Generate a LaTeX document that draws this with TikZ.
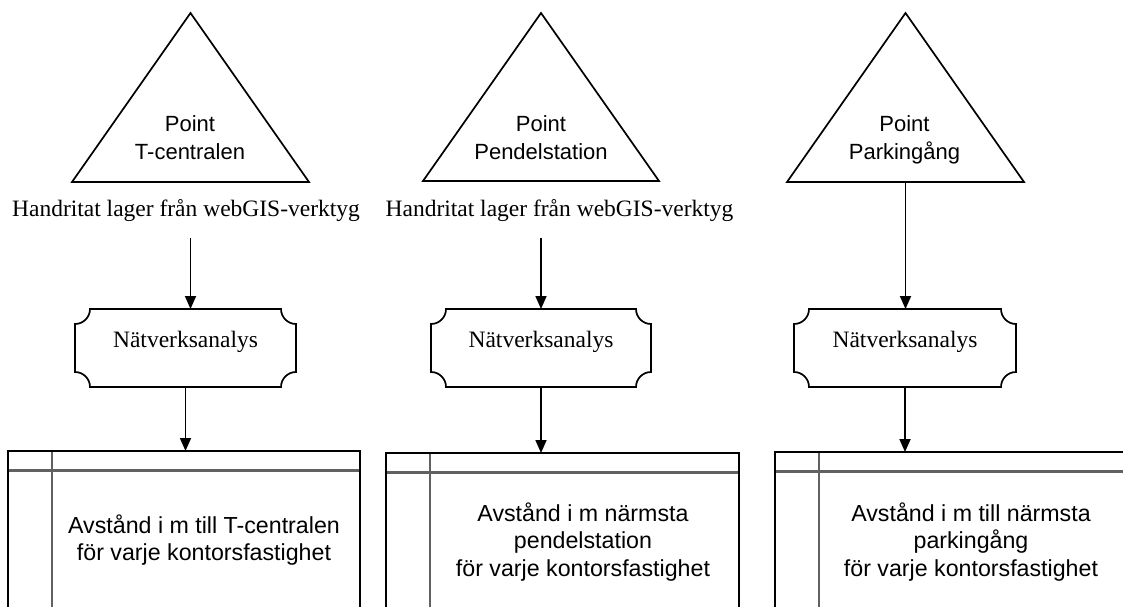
\documentclass[tikz,border=0pt]{standalone}
\usepackage{fontspec}
\setmainfont{Liberation Serif}
\setsansfont{Liberation Sans}
\usetikzlibrary{arrows.meta}

% concave-cornered plaque drawn around a named node
\newcommand\plaqueoutline[1]{%
  \draw[outline] ([xshift=15pt]#1.north west) -- ([xshift=-15pt]#1.north east)
    arc[start angle=180, end angle=270, radius=15pt] -- ([yshift=15pt]#1.south east)
    arc[start angle=90, end angle=180, radius=15pt] -- ([xshift=15pt]#1.south west)
    arc[start angle=0, end angle=90, radius=15pt] -- ([yshift=-15pt]#1.north west)
    arc[start angle=270, end angle=360, radius=15pt] -- cycle;}

% triangle inscribed in a named box
\newcommand\triangleoutline[1]{%
  \draw[outline, line join=miter] (#1.north) -- (#1.south east) -- (#1.south west) -- cycle;}

% header row and side column of a storage table
\newcommand\storedividers[1]{%
  \draw[divider, shorten <=0.8pt, shorten >=0.8pt]
    ([yshift=-19.5pt]#1.north west) -- ([yshift=-19.5pt]#1.north east);
  \draw[divider, shorten <=0.8pt]
    ([xshift=44pt]#1.north west) -- ([xshift=44pt]#1.south west);
  \draw[outline] (#1.south west) rectangle (#1.north east);}

\begin{document}
\begin{tikzpicture}[x=1pt,y=1pt,
  outline/.style={draw=black, line width=1.7pt},
  arrowline/.style={draw=black, line width=1.7pt, -{Triangle[width=11pt,length=13pt]}},
  tribox/.style={minimum width=237pt, minimum height=169pt, inner sep=0pt, outer sep=0pt},
  pointtext/.style={font=\sffamily\fontsize{22}{27.5}\selectfont, align=center, inner sep=0pt, outer sep=0pt},
  layertext/.style={font=\rmfamily\fontsize{23.5}{27.5}\selectfont, inner sep=0pt, outer sep=0pt},
  plaque/.style={minimum width=221pt, minimum height=78pt, inner sep=0pt, outer sep=0pt,
    font=\rmfamily\fontsize{23.5}{27.5}\selectfont, text height=19.25pt, text depth=20.25pt},
  storebox/.style={minimum width=352pt, minimum height=164pt, inner sep=0pt, outer sep=0pt, anchor=north west},
  divider/.style={draw=black!62, line width=2.8pt},
  resulttext/.style={font=\sffamily\fontsize{23.2}{27.5}\selectfont, align=center, inner sep=0pt, outer sep=0pt},
]
\useasboundingbox (0,0) rectangle (1123,606);
\clip (0,0) rectangle (1123,606);
\fill[white] (0,0) rectangle (1123,606);

% ---------- T-centralen ----------
\node[tribox] (tri1) at (190.5,508.5) {};
\triangleoutline{tri1}
\node[pointtext] (pt1) at (190,466) {\strut Point\\T-centralen\strut};
\node[layertext] (lab1) at (186,394.8) {\strut Handritat lager från webGIS-verktyg};
\node[plaque] (tag1) at (185.5,258) {Nätverksanalys};
\plaqueoutline{tag1}
\node[storebox] (tab1) at (8,155) {};
\storedividers{tab1}
\node[resulttext] (res1) at (204,64.5) {\strut Avstånd i m till T-centralen\\för varje kontorsfastighet\strut};

\draw[arrowline, shorten <=13pt] (tri1.north |- lab1.south) -- (tri1.north |- tag1.north);
\draw[arrowline] (tag1.south) -- (tag1.south |- tab1.north);

% ---------- Pendelstation ----------
\node[tribox, minimum width=236pt, minimum height=168pt] (tri2) at (541,509) {};
\triangleoutline{tri2}
\node[pointtext] (pt2) at (541,466) {\strut Point\\Pendelstation\strut};
\node[layertext] (lab2) at (559.5,394.8) {\strut Handritat lager från webGIS-verktyg};
\node[plaque, minimum width=220pt] (tag2) at (541,258) {Nätverksanalys};
\plaqueoutline{tag2}
\node[storebox, minimum width=353pt] (tab2) at (386,153) {};
\storedividers{tab2}
\node[resulttext] (res2) at (583,63) {\strut Avstånd i m närmsta\\pendelstation\\för varje kontorsfastighet\strut};

\draw[arrowline, shorten <=13pt] (tri2.north |- lab2.south) -- (tri2.north |- tag2.north);
\draw[arrowline] (tag2.south) -- (tag2.south |- tab2.north);

% ---------- Parkingång ----------
\node[tribox] (tri3) at (905.5,508.5) {};
\triangleoutline{tri3}
\node[pointtext] (pt3) at (904.5,466) {\strut Point\\Parkingång\strut};
\node[plaque, minimum width=222pt] (tag3) at (905,258) {Nätverksanalys};
\plaqueoutline{tag3}
\node[storebox, minimum width=351pt] (tab3) at (775,154) {};
\storedividers{tab3}
\node[resulttext] (res3) at (971,63) {\strut Avstånd i m till närmsta\\parkingång\\för varje kontorsfastighet\strut};

\draw[arrowline] (tri3.south) -- (tri3.south |- tag3.north);
\draw[arrowline] (tag3.south) -- (tag3.south |- tab3.north);
\end{tikzpicture}
\end{document}
